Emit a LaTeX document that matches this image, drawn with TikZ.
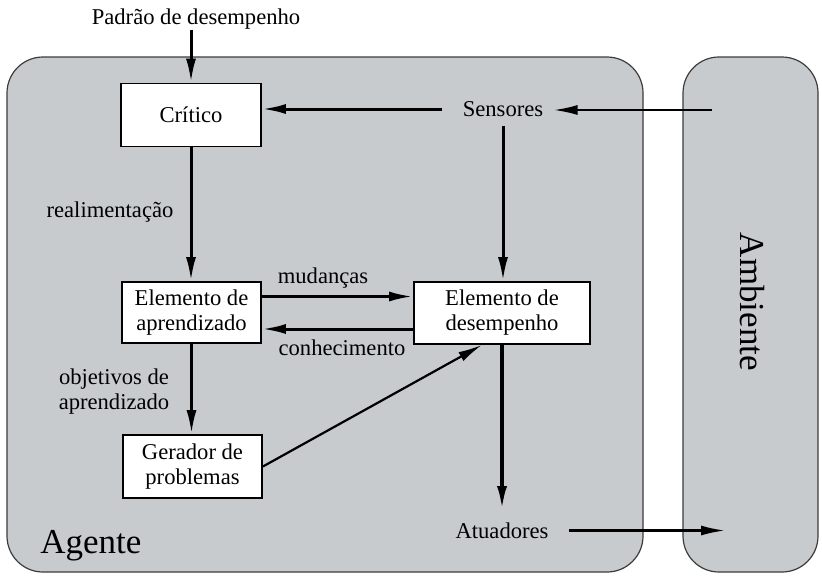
\documentclass[tikz,border=0pt]{standalone}
\usepackage{fontspec}
\setmainfont{Liberation Serif}
\usetikzlibrary{arrows.meta,calc}
\definecolor{panelgray}{RGB}{200,203,205}
\definecolor{edgegray}{RGB}{60,60,60}
\begin{document}
\begin{tikzpicture}[x=0.5pt,y=-0.5pt,
  every node/.style={font=\fontsize{11.3}{12.5}\selectfont},
  box/.style={draw=black, line width=0.9pt, fill=white, align=center, inner sep=0pt},
  lbl/.style={align=center, inner sep=0pt},
  big/.style={inner sep=0pt, font=\fontsize{17.5}{20}\selectfont},
  flow/.style={line width=1.5pt, -{Latex[length=12pt,width=5pt]}},
  thinflow/.style={line width=1.1pt, -{Latex[length=12pt,width=5pt]}},
  panel/.style={fill=panelgray, draw=edgegray, line width=0.6pt, rounded corners=18pt}]
\useasboundingbox (0,0) rectangle (822,578);
\draw[panel] (7,57) rectangle (643,572);
\draw[panel] (683,57) rectangle (818,572);

\node[box, minimum width=70pt, minimum height=31.5pt] (Critico) at (191,115) {Crítico};
\node[box, minimum width=69.5pt, minimum height=30.5pt] (Aprend) at (191.5,312.5) {Elemento de\\aprendizado};
\node[box, minimum width=88pt, minimum height=31pt] (Desemp) at (502,313) {Elemento de\\desempenho};
\node[box, minimum width=69.5pt, minimum height=31.5pt] (Gerador) at (192.5,466.5) {Gerador de\\problemas};

\node[lbl] (Padrao) at (196,19) {Padrão de desempenho};
\node[lbl] (Sensores) at (503,109) {Sensores};
\node[lbl] (Atuadores) at (502,530.5) {Atuadores};
\node[lbl] (Realim) at (110,212) {realimentação};
\node[lbl] (Objetivos) at (114,392) {objetivos de\\aprendizado};
\node[lbl] (Mudancas) at (323,278) {mudanças};
\node[lbl] (Conhec) at (342,348) {conhecimento};
\node[big, anchor=base west] (Agente) at (40,553) {Agente};
\node[big, rotate=-90] (Ambiente) at (752,302) {Ambiente};

\coordinate (AmbIn) at (712,110);
\coordinate (AmbOut) at (725,531);

\draw[flow] (Padrao.south -| Critico.north) -- (Critico.north);
\draw[flow, shorten <=10pt] (Sensores.west) -- (Sensores.west -| Critico.east);
\draw[thinflow, shorten >=5pt] (AmbIn) -- (AmbIn -| Sensores.east);
\draw[flow, shorten <=4.5pt] (Sensores.south) -- (Sensores.south |- Desemp.north);
\draw[flow] (Critico.south) -- (Critico.south |- Aprend.north);
\draw[flow] ([yshift=8pt]Aprend.east) -- ([yshift=8pt]Aprend.east -| Desemp.west);
\draw[flow] ([yshift=-8pt]Desemp.west) -- ([yshift=-8pt]Desemp.west -| Aprend.east);
\draw[flow] (Aprend.south) -- (Aprend.south |- Gerador.north);
\draw[thinflow] (Gerador.east) -- ([xshift=-10pt]Desemp.south);
\draw[flow, line width=1.8pt, shorten >=6pt] (Desemp.south) -- (Desemp.south |- Atuadores.north);
\draw[thinflow] ([xshift=10pt]Atuadores.east) -- (Atuadores.east -| AmbOut);
\end{tikzpicture}
\end{document}
